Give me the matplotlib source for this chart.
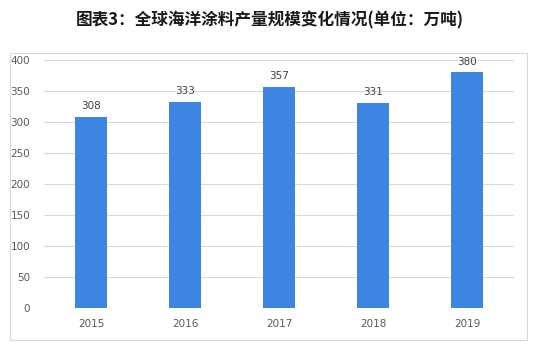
import matplotlib
matplotlib.use("Agg")
import matplotlib.pyplot as plt
from matplotlib.patches import Rectangle

years = ["2015", "2016", "2017", "2018", "2019"]
values = [308, 333, 357, 331, 380]
yticks = [0, 50, 100, 150, 200, 250, 300, 350, 400]
title = "图表3：全球海洋涂料产量规模变化情况(单位：万吨)"

plt.rcParams['font.family'] = ['Noto Sans CJK SC', 'DejaVu Sans']

fig = plt.figure(figsize=(5.41, 3.57), dpi=100)
fig.patch.set_facecolor("white")
ax = fig.add_axes([44/541, 1-308/357, 470/541, 248/357])

x = range(len(years))
bars = ax.bar(x, values, width=0.34, color="#3d85e0", zorder=3)
for xi, v in zip(x, values):
    ax.text(xi, v + 9, str(v), ha="center", va="bottom", fontsize=7.5,
            color="#404040", family="DejaVu Sans")

ax.set_xlim(-0.5, len(years) - 0.5)
ax.set_ylim(0, 400)
ax.set_yticks(yticks)
ax.set_xticks(list(x))
ax.set_xticklabels(years)
for s in ax.spines.values():
    s.set_visible(False)
ax.grid(axis="y", color="#d9d9d9", linewidth=0.8, zorder=0)
ax.tick_params(axis="both", length=0, labelsize=7.5, colors="#595959")
ax.tick_params(axis="y", pad=10)
ax.tick_params(axis="x", pad=8)
for lab in ax.get_xticklabels() + ax.get_yticklabels():
    lab.set_family("DejaVu Sans")

fig.patches.append(Rectangle((10/541, 1-340/357), 517/541, 287/357,
                             transform=fig.transFigure, fill=False,
                             edgecolor="#d9d9d9", linewidth=0.8))

fig.text(270/541, 1-20/357, title, ha="center", va="center",
         fontsize=12, fontweight="bold", color="#1a1a1a")

fig.savefig("out.png", dpi=100)
